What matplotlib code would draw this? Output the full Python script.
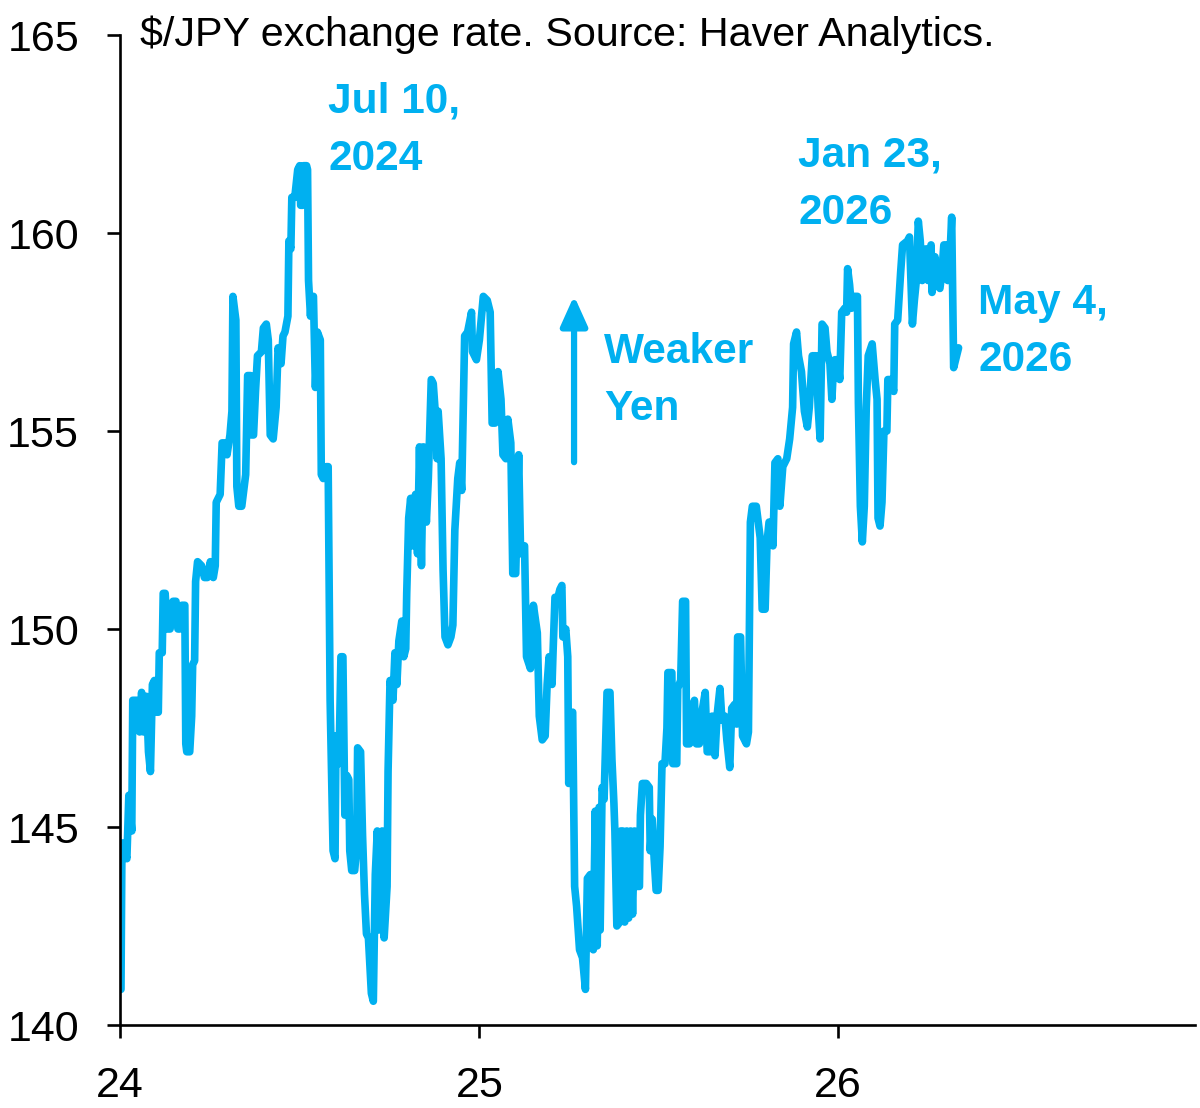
import matplotlib
matplotlib.use('Agg')
import matplotlib.pyplot as plt
import matplotlib.dates as mdates
import pandas as pd

plt.rcParams['font.family'] = ['Liberation Sans', 'DejaVu Sans']

# $/JPY: day of year -> rate
days_2024 = [1, 2, 7, 9, 12, 13, 17, 20, 22, 24, 27, 29, 31, 33, 35, 37, 39, 40, 43, 44,
             46, 48, 51, 54, 57, 59, 61, 63, 66, 67, 68, 71, 73, 74, 76, 77, 79, 83, 86, 89,
             92, 95, 97, 98, 102, 104, 107, 109, 112, 114, 115, 118, 119, 121, 124, 128, 130, 133, 134, 136,
             138, 140, 144, 146, 149, 151, 153, 156, 159, 161, 164, 166, 168, 171, 172, 174, 175, 178, 181, 183,
             184, 186, 187, 190, 191, 192, 194, 195, 197, 199, 201, 204, 205, 207, 210, 212, 214, 217, 219, 220,
             223, 225, 227, 229, 231, 233, 234, 236, 239, 241, 242, 245, 247, 249, 251, 253, 256, 258, 260, 262,
             264, 267, 269, 272, 273, 275, 278, 280, 282, 284, 287, 289, 291, 292, 294, 296, 298, 301, 303, 305,
             307, 309, 312, 314, 317, 319, 321, 323, 324, 327, 329, 331, 334, 337, 339, 341, 344, 346, 348, 351,
             354, 358, 359, 363]
rate_2024 = [140.9, 144.6, 144.2, 145.8, 144.9, 148.2, 148.2, 147.4, 148.4, 147.4, 148.3, 146.9, 146.4, 148.6, 148.7, 147.9, 147.9, 149.4, 149.4, 150.9,
             150.9, 150.0, 150.0, 150.7, 150.7, 150.0, 150.0, 150.6, 150.6, 147.1, 146.9, 146.9, 147.8, 149.1, 149.2, 151.2, 151.7, 151.6, 151.3, 151.3,
             151.7, 151.3, 151.6, 153.2, 153.4, 154.7, 154.7, 154.4, 154.9, 155.5, 158.4, 157.8, 153.6, 153.1, 153.1, 153.9, 156.4, 156.4, 154.9, 154.9,
             156.0, 156.9, 157.0, 157.6, 157.7, 157.3, 154.9, 154.8, 155.6, 157.1, 156.7, 157.4, 157.5, 157.9, 159.8, 159.6, 160.9, 160.9, 161.6, 161.7,
             160.7, 160.7, 161.7, 161.7, 161.6, 158.8, 157.9, 158.4, 158.4, 156.1, 157.5, 157.3, 153.9, 153.8, 154.1, 154.1, 148.2, 144.4, 144.2, 147.3,
             146.6, 149.3, 149.3, 145.3, 146.3, 146.2, 144.4, 143.9, 143.9, 144.5, 147.0, 146.9, 144.8, 143.3, 142.3, 142.2, 140.8, 140.6, 143.8, 144.9,
             142.4, 144.9, 142.2, 143.5, 146.4, 148.7, 148.2, 149.4, 148.6, 149.7, 150.2, 149.3, 149.5, 150.9, 152.8, 153.3, 152.1, 153.4, 151.9, 154.6,
             151.6, 154.6, 152.7, 153.8, 156.3, 156.2, 155.5, 154.3, 155.5, 154.3, 151.5, 149.8, 149.6, 149.8, 150.1, 152.5, 153.8, 154.2, 153.5, 157.4,
             157.5, 158.0, 157.0, 156.8]

days_2025 = [0, 4, 8, 11, 13, 16, 19, 22, 24, 27, 29, 32, 34, 37, 40, 42, 46, 48, 52, 55,
             59, 61, 64, 67, 69, 71, 74, 75, 77, 80, 82, 84, 85, 88, 90, 91, 93, 95, 97, 99,
             102, 105, 108, 110, 113, 116, 118, 120, 122, 123, 125, 127, 130, 133, 135, 137, 138, 140, 143, 144,
             146, 148, 150, 152, 154, 156, 158, 160, 163, 164, 166, 170, 173, 174, 176, 178, 180, 182, 184, 186,
             189, 191, 192, 196, 197, 201, 202, 205, 207, 210, 211, 214, 216, 219, 221, 224, 226, 230, 232, 235,
             237, 240, 242, 245, 247, 250, 252, 255, 257, 260, 262, 263, 266, 268, 272, 274, 276, 278, 282, 286,
             288, 291, 293, 295, 298, 299, 301, 304, 306, 309, 313, 316, 319, 320, 323, 325, 328, 331, 334, 336,
             339, 343, 345, 347, 349, 352, 354, 357, 359, 360, 362]
rate_2025 = [157.3, 158.4, 158.3, 158.0, 155.2, 155.2, 156.5, 155.8, 154.4, 154.3, 155.3, 154.7, 151.4, 151.4, 154.4, 151.9, 152.1, 149.3, 149.0, 150.6,
             149.9, 147.8, 147.2, 147.3, 148.6, 149.3, 148.6, 149.4, 150.8, 150.8, 151.0, 151.1, 149.8, 150.0, 149.3, 146.1, 147.8, 147.9, 143.5, 143.0,
             141.9, 141.7, 140.9, 143.7, 143.8, 141.9, 145.4, 142.0, 145.5, 142.4, 146.0, 145.7, 148.4, 148.4, 146.7, 145.6, 144.9, 142.5, 142.6, 144.9,
             144.9, 142.6, 144.9, 142.7, 144.9, 142.8, 144.9, 143.5, 143.5, 145.3, 146.1, 146.1, 146.0, 144.4, 145.2, 144.2, 143.4, 143.4, 144.5, 146.6,
             146.6, 147.5, 148.9, 148.9, 146.6, 146.6, 148.5, 148.7, 150.7, 150.7, 147.1, 147.1, 147.9, 148.2, 147.1, 147.1, 147.8, 148.4, 146.9, 146.9,
             147.8, 146.8, 147.8, 148.5, 147.7, 147.8, 147.2, 146.5, 148.0, 148.1, 147.6, 149.8, 149.8, 147.3, 147.1, 147.4, 152.7, 153.1, 153.1, 152.3,
             150.5, 150.5, 152.2, 152.7, 152.7, 152.1, 154.2, 154.3, 153.1, 154.1, 154.3, 154.8, 155.6, 157.2, 157.5, 156.9, 156.5, 155.5, 155.1, 155.6,
             156.9, 156.9, 155.6, 154.8, 157.7, 157.6, 157.0, 156.7, 155.8, 156.3, 156.8]

days_2026 = [0, 2, 4, 7, 9, 10, 12, 14, 17, 20, 21, 23, 25, 27, 29, 31, 35, 38, 40, 41,
             43, 45, 47, 50, 51, 54, 57, 58, 61, 64, 66, 71, 73, 76, 78, 80, 82, 84, 86, 90,
             92, 95, 96, 99, 101, 104, 106, 108, 110, 112, 114, 116, 118, 120, 123]
rate_2026 = [156.8, 156.3, 158.0, 158.1, 158.0, 159.1, 158.7, 158.1, 158.4, 158.4, 155.7, 153.1, 152.2, 153.1, 155.6, 156.9, 157.2, 156.3, 155.8, 152.8,
             152.6, 153.2, 155.0, 155.0, 156.3, 156.3, 156.0, 157.7, 157.8, 159.0, 159.7, 159.8, 159.9, 157.7, 158.3, 158.8, 160.3, 159.8, 158.8, 159.6,
             158.8, 159.7, 158.5, 159.4, 158.7, 158.6, 159.0, 159.7, 159.7, 158.8, 159.3, 160.4, 156.6, 156.8, 157.1]

yticks = [140, 145, 150, 155, 160, 165]
title = '$/JPY exchange rate. Source: Haver Analytics.'
blue = '#00B0F0'

dates = []
for year, days in [(2024, days_2024), (2025, days_2025), (2026, days_2026)]:
    dates += list(pd.Timestamp(f'{year}-01-01') + pd.to_timedelta(days, unit='D'))
rate = rate_2024 + rate_2025 + rate_2026

fig = plt.figure(figsize=(12, 11.08), dpi=100)
ax = fig.add_axes([0.1, 0.0749, 0.896, 0.8935])

ax.plot(dates, rate, color=blue, lw=5.5, solid_joinstyle='round', solid_capstyle='round')

ax.set_ylim(140, 165)
ax.set_yticks(yticks)
ax.set_xlim(pd.Timestamp('2024-01-01'), pd.Timestamp('2026-12-31'))
ax.xaxis.set_major_locator(mdates.YearLocator())
ax.xaxis.set_major_formatter(mdates.DateFormatter('%y'))

for s in ['top', 'right']:
    ax.spines[s].set_visible(False)
for s in ['left', 'bottom']:
    ax.spines[s].set_linewidth(1.9)
ax.tick_params(axis='both', direction='out', length=9.5, width=1.9, labelsize=31)
ax.tick_params(axis='y', pad=20)
ax.tick_params(axis='x', pad=20)

ax.text(0.0186, 1.0, title, transform=ax.transAxes, fontsize=29.7, va='center', ha='left')

# blue call-outs
ann = dict(transform=ax.transAxes, color=blue, fontsize=30.5, fontweight='bold',
           va='top', ha='left', linespacing=1.55)
ax.text(0.1935, 0.953, 'Jul 10,\n2024', **ann)
ax.text(0.6307, 0.898, 'Jan 23,\n2026', **ann)
ax.text(0.4502, 0.700, 'Weaker\nYen', **ann)
ax.text(0.798, 0.750, 'May 4,\n2026', **ann)

ax.annotate('', xy=(0.4223, 0.7394), xytext=(0.4223, 0.5657), xycoords='axes fraction',
            arrowprops=dict(arrowstyle='-|>,head_length=1.0,head_width=0.45',
                            mutation_scale=18, color=blue, lw=4.5))

fig.savefig('out.png', dpi=100)
